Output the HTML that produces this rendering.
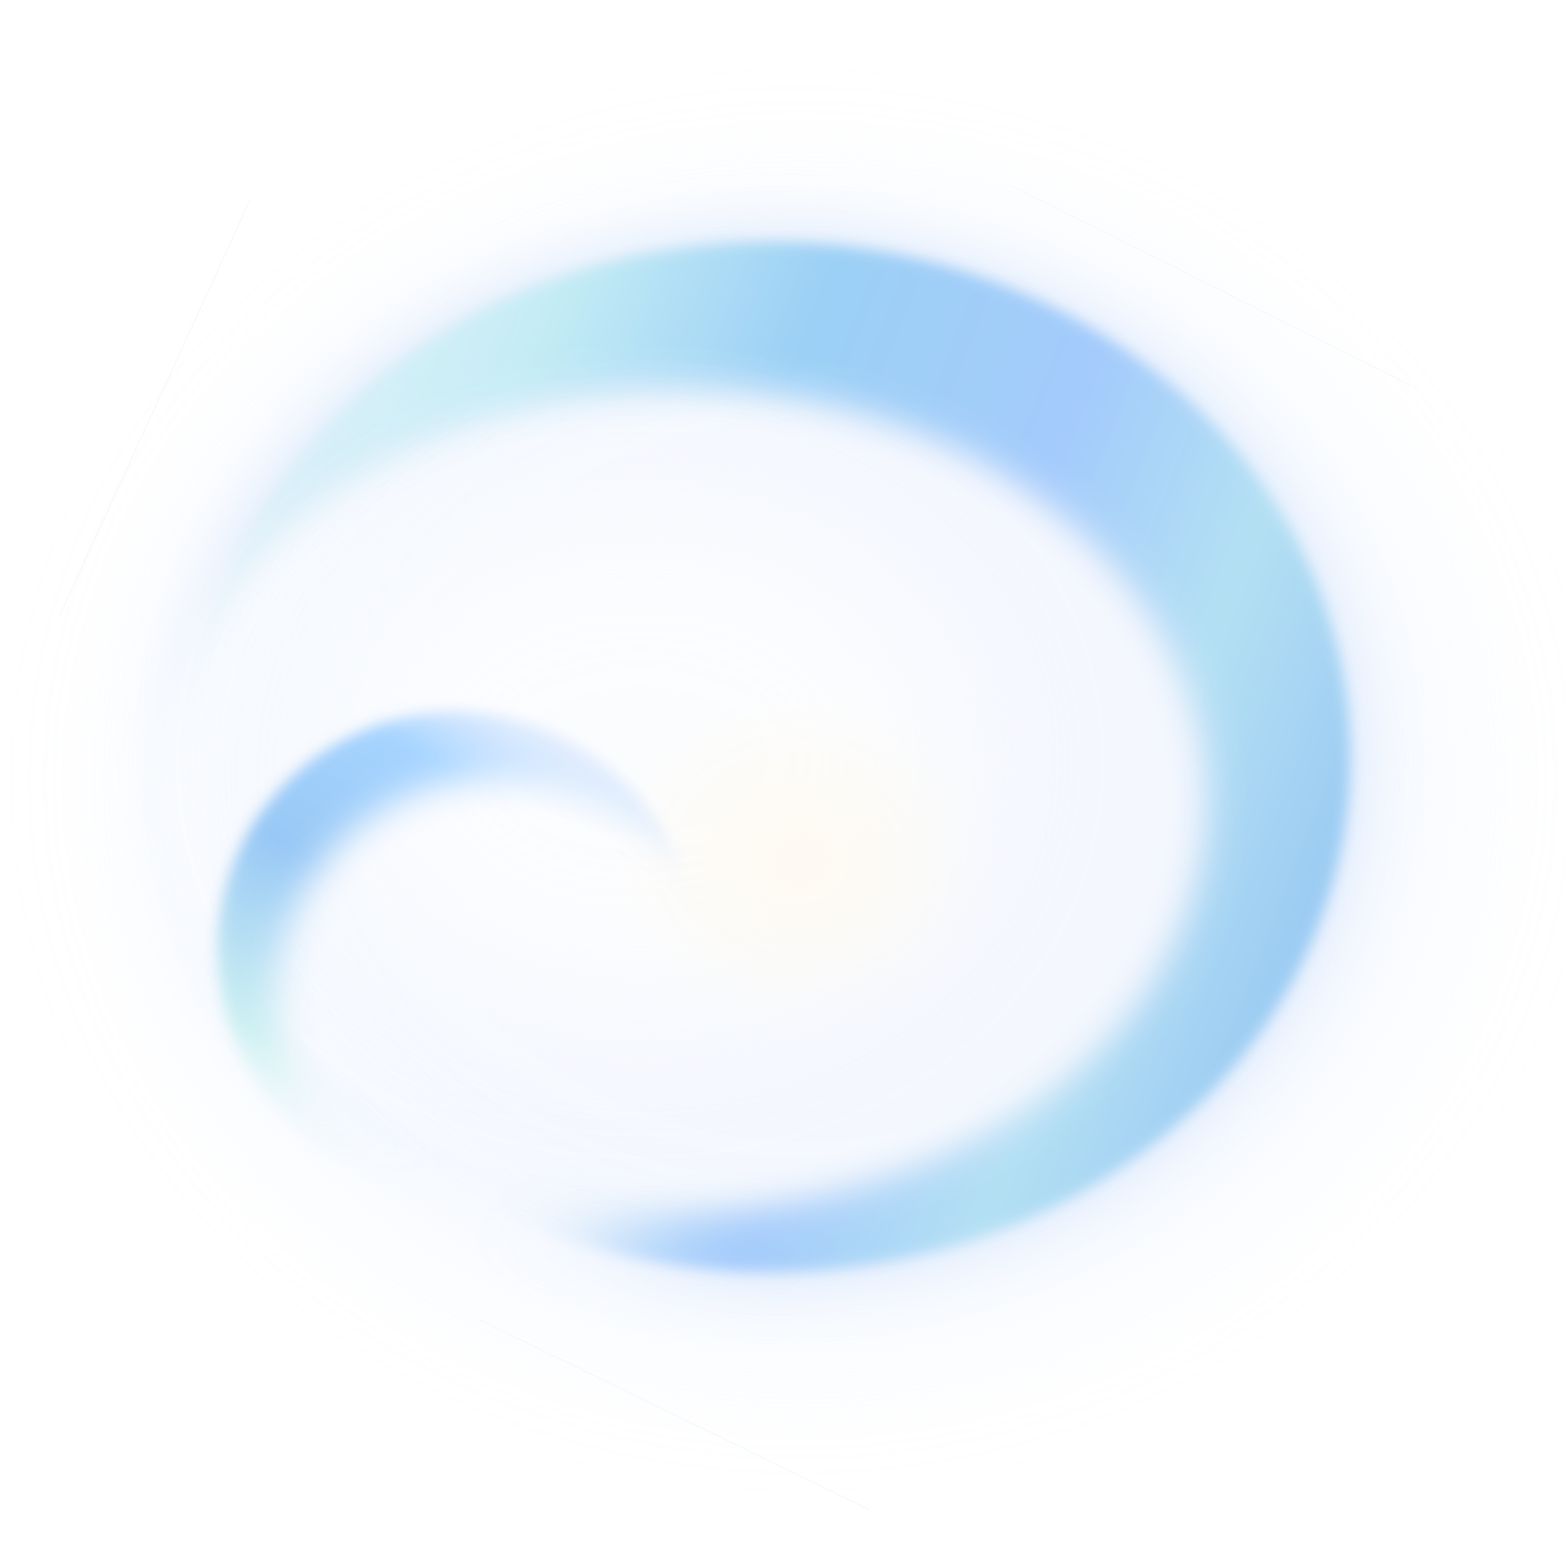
<!DOCTYPE html>
<html><head><meta charset="utf-8"><style>
html,body{margin:0;padding:0;background:#fff;width:1566px;height:1542px;overflow:hidden}
svg{display:block}
</style></head><body>
<svg width="1566" height="1542" viewBox="0 0 1566 1542" xmlns="http://www.w3.org/2000/svg">
<defs>
  <filter id="b1" x="-50%" y="-50%" width="200%" height="200%"><feGaussianBlur stdDeviation="80"/></filter>
  <filter id="b2" x="-50%" y="-50%" width="200%" height="200%"><feGaussianBlur stdDeviation="30"/></filter>
  <filter id="b3" x="-50%" y="-50%" width="200%" height="200%"><feGaussianBlur stdDeviation="7"/></filter>
  <filter id="bm" x="-50%" y="-50%" width="200%" height="200%"><feGaussianBlur stdDeviation="18"/></filter>
  <filter id="bf" x="-50%" y="-50%" width="200%" height="200%"><feGaussianBlur stdDeviation="60"/></filter>
  <linearGradient id="gBig" gradientUnits="userSpaceOnUse" x1="200" y1="450" x2="1350" y2="900">
    <stop offset="0" stop-color="#d6f2f6" stop-opacity="0.4"/>
    <stop offset="0.22" stop-color="#c4ecf4"/>
    <stop offset="0.42" stop-color="#9cd0f5"/>
    <stop offset="0.65" stop-color="#a4cbfb"/>
    <stop offset="0.82" stop-color="#b4e0f3"/>
    <stop offset="1" stop-color="#98c8f3"/>
  </linearGradient>
  <linearGradient id="gSmall" gradientUnits="userSpaceOnUse" x1="560" y1="720" x2="300" y2="1150">
    <stop offset="0" stop-color="#c8dcff" stop-opacity="0.3"/>
    <stop offset="0.2" stop-color="#a6d4ff"/>
    <stop offset="0.5" stop-color="#98c8f5"/>
    <stop offset="0.85" stop-color="#cdf0f2"/>
    <stop offset="1" stop-color="#e6f8f8" stop-opacity="0"/>
  </linearGradient>
  <radialGradient id="gCenter" cx="0.5" cy="0.5" r="0.5">
    <stop offset="0" stop-color="#fffaf0"/>
    <stop offset="1" stop-color="#fffaf0" stop-opacity="0"/>
  </radialGradient>
  <mask id="mBig"><rect x="-200" y="-200" width="2000" height="2000" fill="#fff"/>
    <ellipse cx="680" cy="800" rx="530" ry="415" fill="#000" filter="url(#bm)"/>
    <ellipse cx="430" cy="1200" rx="230" ry="150" fill="#000" filter="url(#bf)"/>
  </mask>
  <mask id="mSmall"><rect x="-200" y="-200" width="2000" height="2000" fill="#fff"/><circle cx="500" cy="1000" r="225" fill="#000" filter="url(#bm)"/><ellipse cx="640" cy="1080" rx="200" ry="240" fill="#000" filter="url(#b2)"/></mask>
</defs>
<g filter="url(#b1)" opacity="0.22">
  <ellipse cx="800" cy="780" rx="640" ry="560" fill="#cfdffb"/>
</g>
<g mask="url(#mBig)" opacity="0.45">
  <ellipse cx="770" cy="757" rx="595" ry="530" fill="#c6dcfb" filter="url(#b2)"/>
</g>
<g mask="url(#mBig)">
  <ellipse cx="770" cy="757" rx="580" ry="515" fill="url(#gBig)" filter="url(#b3)"/>
</g>
<g>
  <ellipse cx="640" cy="760" rx="330" ry="260" fill="#ffffff" opacity="0.7" filter="url(#b1)"/>
  <ellipse cx="800" cy="860" rx="200" ry="170" fill="url(#gCenter)" filter="url(#b2)"/>
</g>
<g mask="url(#mSmall)">
  <circle cx="455" cy="950" r="238" fill="url(#gSmall)" filter="url(#b3)"/>
</g>
<g stroke="#e8eef2" stroke-width="1" opacity="0.4" fill="none">
  <line x1="60" y1="615" x2="250" y2="200"/>
  <line x1="1010" y1="185" x2="1410" y2="385"/>
  <line x1="480" y1="1320" x2="870" y2="1510"/>
</g>
</svg>
</body></html>
